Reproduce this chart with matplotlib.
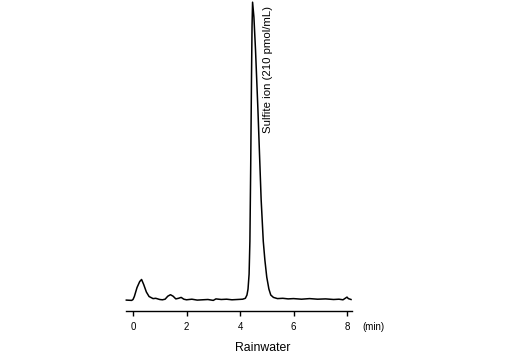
import matplotlib
matplotlib.use('Agg')
import matplotlib.pyplot as plt

plt.rcParams['font.family'] = ['Liberation Sans', 'DejaVu Sans']

# chromatogram trace (time in min, relative response)
time_min = [-0.25, -0.05, 0.0, 0.05, 0.15, 0.25, 0.32, 0.4, 0.5, 0.6, 0.75, 0.85,
            1.0, 1.1, 1.2, 1.3, 1.4, 1.5, 1.6, 1.7, 1.8, 1.9, 2.0, 2.2, 2.4, 2.6,
            2.8, 3.0, 3.1, 3.3, 3.5, 3.7, 3.9, 4.1, 4.2, 4.26, 4.3, 4.34, 4.37,
            4.40, 4.43, 4.45, 4.47, 4.52, 4.58, 4.67, 4.79, 4.87, 4.93, 5.0, 5.08,
            5.15, 5.25, 5.4, 5.6, 5.8, 6.0, 6.3, 6.6, 6.9, 7.2, 7.5, 7.7, 7.85,
            7.95, 8.0, 8.05, 8.15]
response = [0.3, 0.2, 0.5, 1.5, 4.5, 6.5, 7.2, 5.5, 3.0, 1.5, 0.8, 0.9,
            0.5, 0.4, 0.6, 1.6, 2.1, 1.6, 0.7, 0.9, 1.2, 0.6, 0.4, 0.6, 0.3, 0.4,
            0.5, 0.2, 0.7, 0.5, 0.6, 0.4, 0.5, 0.6, 0.9, 2.0, 4.0, 9.0, 20.0,
            45.0, 75.0, 92.0, 100.0, 95.0, 84.0, 64.0, 34.0, 20.0, 13.7, 8.0, 4.0,
            2.0, 1.2, 0.8, 0.9, 0.7, 0.8, 0.6, 0.8, 0.6, 0.7, 0.5, 0.6, 0.4,
            1.0, 1.3, 0.8, 0.5]
tick_vals = [0, 2, 4, 6, 8]
tick_labels = ['0', '2', '4', '6', '8']

W, H = 510, 360
fig = plt.figure(figsize=(W / 100, H / 100), dpi=100)
# axes box in pixel terms: x 126..352, y 1..311
ax = fig.add_axes([126 / W, 1 - 311 / H, (352 - 126) / W, 310 / H])
ax.plot(time_min, response, color='black', lw=1.1, clip_on=False)
ax.set_xlim(-0.262, 8.187)
ax.set_ylim(-3.35, 100.4)

for s in ['top', 'right', 'left']:
    ax.spines[s].set_visible(False)
ax.spines['bottom'].set_linewidth(1.0)
ax.set_yticks([])
ax.set_xticks(tick_vals)
ax.set_xticklabels(tick_labels, fontsize=7)
ax.tick_params(axis='x', direction='out', length=3.5, width=1.0, pad=4.5)

ax.text(8.56, -8.6, '(min)', fontsize=7, ha='left', va='center')
ax.text(5.05, 98.8, 'Sulfite ion (210 pmol/mL)', rotation=90, fontsize=8.2,
        ha='center', va='top')
fig.text(263 / W, 1 - 348 / H, 'Rainwater', fontsize=8.8, ha='center', va='center')

fig.savefig('out.png', dpi=100)
